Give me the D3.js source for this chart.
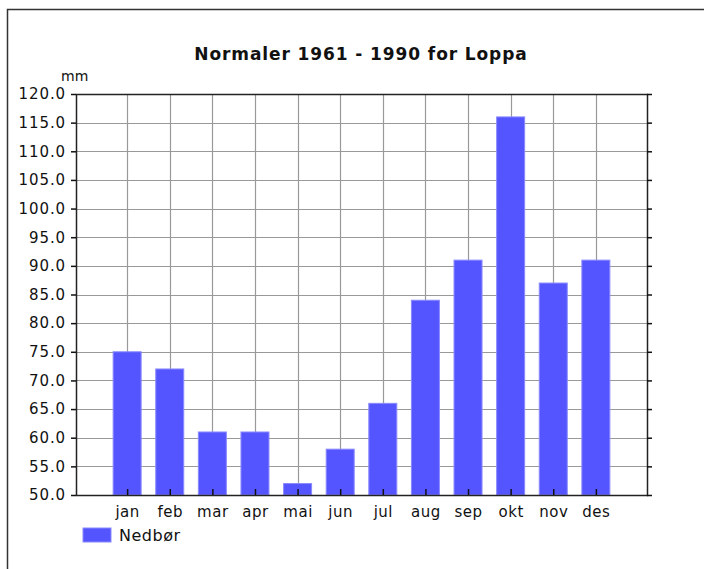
<!DOCTYPE html>
<html>
<head>
<meta charset="utf-8">
<script src="https://cdn.jsdelivr.net/npm/d3@7"></script>
<style>
  body { margin: 0; background: #fff; }
  text { font-family: "DejaVu Sans", sans-serif; fill: #111; }
</style>
</head>
<body>
<div id="chart"></div>
<script>
// data
var months = ["jan", "feb", "mar", "apr", "mai", "jun", "jul", "aug", "sep", "okt", "nov", "des"];
var nedbor = [75, 72, 61, 61, 52, 58, 66, 84, 91, 116, 87, 91];
var yTicks = [50, 55, 60, 65, 70, 75, 80, 85, 90, 95, 100, 105, 110, 115, 120];

var svgWidth = 704;
var svgHeight = 569;

var margin = { top: 94, right: 57, bottom: 74, left: 76 };
var width = svgWidth - margin.left - margin.right;
var height = svgHeight - margin.top - margin.bottom;

var svg = d3.select("#chart")
  .append("svg")
  .attr("width", svgWidth)
  .attr("height", svgHeight);

// outer frame (only top and left show)
svg.append("path")
  .attr("d", "M7.5,569 V9.5 H704")
  .attr("fill", "none")
  .attr("stroke", "#333")
  .attr("stroke-width", 1.5);

// title
svg.append("text")
  .attr("x", 361)
  .attr("y", 60)
  .attr("text-anchor", "middle")
  .style("font-size", "17px")
  .style("font-weight", "bold")
  .style("letter-spacing", "0.9px")
  .text("Normaler 1961 - 1990 for Loppa");

var chartGroup = svg.append("g")
  .attr("transform", `translate(${margin.left}, ${margin.top})`);

var xScale = d3.scalePoint()
  .domain(months)
  .range([0, width])
  .padding(1.2);

var yScale = d3.scaleLinear()
  .domain([50, 120])
  .range([height, 0]);

// gridlines
chartGroup.append("g")
  .selectAll("line.h")
  .data(yTicks)
  .enter()
  .append("line")
  .attr("x1", 0)
  .attr("x2", width)
  .attr("y1", d => Math.round(yScale(d)) + 0.5)
  .attr("y2", d => Math.round(yScale(d)) + 0.5)
  .attr("stroke", "#999")
  .attr("stroke-width", 1.2);

chartGroup.append("g")
  .selectAll("line.v")
  .data(months)
  .enter()
  .append("line")
  .attr("x1", d => Math.round(xScale(d)) + 0.5)
  .attr("x2", d => Math.round(xScale(d)) + 0.5)
  .attr("y1", 0)
  .attr("y2", height)
  .attr("stroke", "#999")
  .attr("stroke-width", 1.2);

// bars
var barWidth = 28;
chartGroup.selectAll("rect.bar")
  .data(nedbor)
  .enter()
  .append("rect")
  .attr("class", "bar")
  .attr("x", (d, i) => xScale(months[i]) - barWidth / 2)
  .attr("y", d => yScale(d))
  .attr("width", barWidth)
  .attr("height", d => height - yScale(d))
  .attr("fill", "#5555ff")
  .attr("stroke", "#8a8aff")
  .attr("stroke-width", 1);

// plot border
chartGroup.append("rect")
  .attr("x", 0.5)
  .attr("y", 0.5)
  .attr("width", width)
  .attr("height", height)
  .attr("fill", "none")
  .attr("stroke", "#222")
  .attr("stroke-width", 1.5);

// axes
var leftAxis = d3.axisLeft(yScale)
  .tickValues(yTicks)
  .tickSize(5)
  .tickPadding(5)
  .tickFormat(d3.format(".1f"));

var rightAxis = d3.axisRight(yScale)
  .tickValues(yTicks)
  .tickSize(5)
  .tickFormat("");

var bottomAxis = d3.axisBottom(xScale)
  .tickSize(6)
  .tickPadding(4)
  .tickSizeOuter(0);

var yAxisG = chartGroup.append("g").call(leftAxis);
yAxisG.select(".domain").remove();
yAxisG.selectAll("text")
  .style("font-size", "15px")
  .style("letter-spacing", "0.9px")
  .style("font-family", "DejaVu Sans, sans-serif")
  .attr("fill", "#111");
yAxisG.selectAll("line").attr("stroke", "#111").attr("stroke-width", 1.5);

var yRightG = chartGroup.append("g")
  .attr("transform", `translate(${width}, 0)`)
  .call(rightAxis);
yRightG.select(".domain").remove();
yRightG.selectAll("line").attr("stroke", "#111").attr("stroke-width", 1.5);

var xAxisG = chartGroup.append("g")
  .attr("transform", `translate(0, ${height})`)
  .call(bottomAxis);
xAxisG.select(".domain").remove();
xAxisG.selectAll("line")
  .attr("y1", -6)
  .attr("y2", 0)
  .attr("stroke", "#111")
  .attr("stroke-width", 1.5);
xAxisG.selectAll("text")
  .attr("y", 11)
  .attr("dy", "0.71em")
  .style("font-size", "15px")
  .style("letter-spacing", "0.5px")
  .style("font-family", "DejaVu Sans, sans-serif")
  .attr("fill", "#111");

// unit label
svg.append("text")
  .attr("x", 61)
  .attr("y", 81)
  .style("font-size", "14px")
  .text("mm");

// legend
svg.append("rect")
  .attr("x", 83)
  .attr("y", 528)
  .attr("width", 28)
  .attr("height", 14)
  .attr("fill", "#5555ff")
  .attr("stroke", "#8a8aff");

svg.append("text")
  .attr("x", 119)
  .attr("y", 541)
  .style("font-size", "16px")
  .style("letter-spacing", "0.5px")
  .text("Nedbør");
</script>
</body>
</html>
